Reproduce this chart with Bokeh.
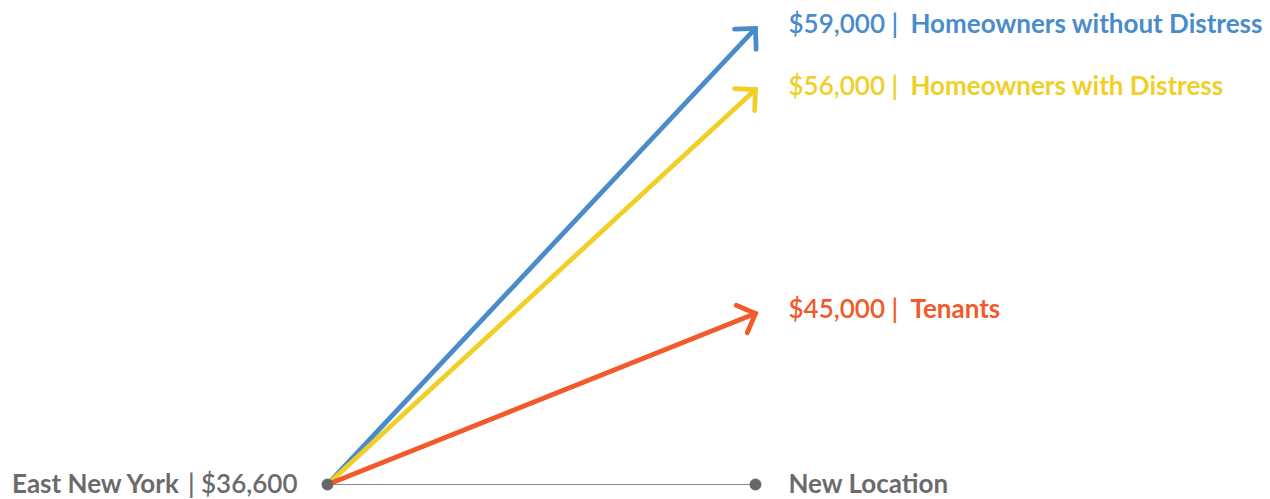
import math
from bokeh.plotting import figure
from bokeh.models import ColumnDataSource, Range1d
from bokeh.core.properties import value
from bokeh.embed import file_html
from bokeh.resources import INLINE

# ---- data ----
origin_label = "East New York"
origin_income = 36600
dest_label = "New Location"
groups = ["Homeowners without Distress", "Homeowners with Distress", "Tenants"]
incomes = [59000, 56000, 45000]
value_labels = ["$59,000 |", "$56,000 |", "$45,000 |"]
origin_value_label = "| $36,600"
colors = ["#4a8cca", "#f0cf26", "#f15a2a"]
gray = "#6b6b6d"

W, H = 1270, 499
x0, x1 = -0.7640, 2.2033
y0, y1 = 35863, 60372

p = figure(width=W, height=H, output_backend="svg", toolbar_location=None,
           x_range=Range1d(x0, x1), y_range=Range1d(y0, y1),
           min_border=0, outline_line_color=None)
p.axis.visible = False
p.grid.visible = False
p.background_fill_color = "white"
p.border_fill_color = "white"

px_x = W / (x1 - x0)
px_y = H / (y1 - y0)

# baseline
p.line([0, 1], [origin_income, origin_income], line_color="#8a8a8a", line_width=1.2)

# arrows
arm_len = 21.0
for inc, col in zip(incomes, colors):
    p.line([0, 1], [origin_income, inc], line_color=col, line_width=4.8, line_cap="round")
    dxs = (0 - 1) * px_x
    dys = (origin_income - inc) * px_y
    L = math.hypot(dxs, dys)
    ux, uy = dxs / L, dys / L
    xs_arm, ys_arm = [], []
    for ang in (math.radians(45), math.radians(-45)):
        rx = ux * math.cos(ang) - uy * math.sin(ang)
        ry = ux * math.sin(ang) + uy * math.cos(ang)
        xs_arm.append(1 + rx * arm_len / px_x)
        ys_arm.append(inc + ry * arm_len / px_y)
    p.line([xs_arm[0], 1, xs_arm[1]], [ys_arm[0], inc, ys_arm[1]],
           line_color=col, line_width=4.8, line_cap="round", line_join="miter")

# dots
p.scatter([0, 1], [origin_income, origin_income], size=11, color="#666666")

bold_font = value("Lato")
mid_font = value("Lato Semibold")
fs = value("26px")

# right-hand labels
src = ColumnDataSource(dict(x=[1] * 3, y=incomes, v=value_labels, g=groups, c=colors))
p.text(x="x", y="y", text="v", source=src, text_color="c", text_font=mid_font,
       text_font_size=fs, text_font_style="normal", text_baseline="middle",
       text_align="left", x_offset=33, y_offset=-5)
p.text(x="x", y="y", text="g", source=src, text_color="c", text_font=bold_font,
       text_font_size=fs, text_font_style="bold", text_baseline="middle",
       text_align="left", x_offset=155, y_offset=-5)

# bottom labels
p.text(x=[0], y=[origin_income], text=[origin_value_label], text_color=gray,
       text_font=mid_font, text_font_size=fs, text_font_style="normal",
       text_baseline="middle", text_align="right", x_offset=-30, y_offset=-1)
p.text(x=[0], y=[origin_income], text=[origin_label], text_color=gray,
       text_font=bold_font, text_font_size=fs, text_font_style="bold",
       text_baseline="middle", text_align="right", x_offset=-147, y_offset=-1)
p.text(x=[1], y=[origin_income], text=[dest_label], text_color=gray,
       text_font=bold_font, text_font_size=fs, text_font_style="bold",
       text_baseline="middle", text_align="left", x_offset=33, y_offset=-1)

open("out.html", "w").write(file_html(p, INLINE))
